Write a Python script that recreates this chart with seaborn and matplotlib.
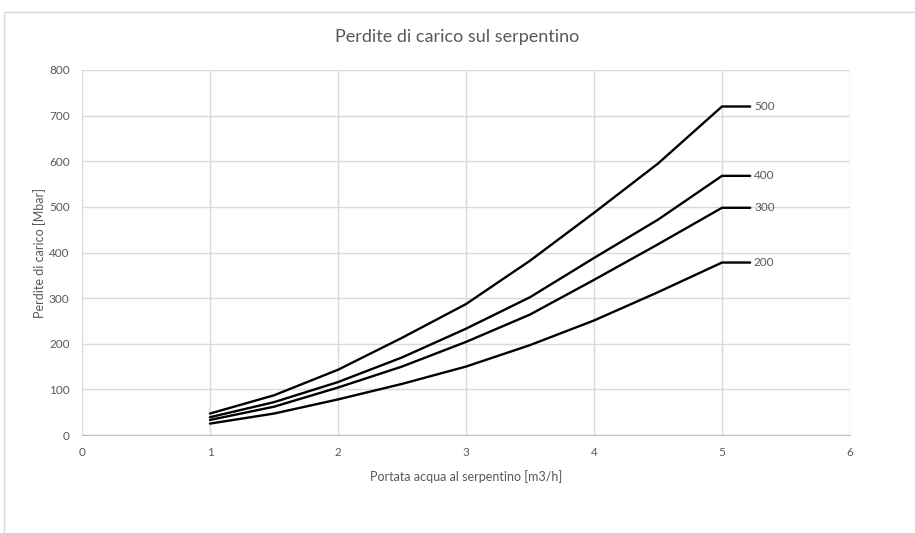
import pandas as pd
import seaborn as sns
import matplotlib.pyplot as plt
from matplotlib.patches import Rectangle

# portata [m3/h] e perdite di carico [Mbar]
portata = [1, 1.5, 2, 2.5, 3, 3.5, 4, 4.5, 5, 5.22]
serie = ['500', '400', '300', '200']
p500 = [47, 87, 143, 213, 287, 382, 487, 595, 720, 720]
p400 = [39, 72, 116, 170, 233, 302, 388, 472, 568, 568]
p300 = [33, 62, 104, 150, 204, 264, 340, 418, 498, 498]
p200 = [25, 47, 78, 112, 150, 197, 251, 313, 378, 378]

df = pd.DataFrame({'portata': portata * 4,
                   'perdite': p500 + p400 + p300 + p200,
                   'serie': [s for s in serie for _ in portata]})

sns.set_style('white')
plt.rcParams['font.family'] = ['Lato', 'DejaVu Sans']
grey = '#595959'

fig = plt.figure(figsize=(9.15, 5.33), dpi=100)
fig.patches.append(Rectangle((4/915, -0.01), 1, 1 - 12/533 + 0.01,
                             transform=fig.transFigure, fill=False,
                             edgecolor='#d9d9d9', lw=1))
ax = fig.add_axes([82/915, 1 - 435/533, 768/915, 365/533])

sns.lineplot(data=df, x='portata', y='perdite', hue='serie',
             palette=['black'] * 4, linewidth=1.7, legend=False, ax=ax)

for s, vals in zip(serie, [p500, p400, p300, p200]):
    ax.text(portata[-1] + 0.03, vals[-1], s, color=grey, fontsize=8.5,
            va='center', ha='left')

ax.set_xlim(0, 6)
ax.set_ylim(0, 800)
ax.set_xticks(range(0, 7))
ax.set_yticks(range(0, 801, 100))
ax.grid(True, color='#d9d9d9', lw=1)
ax.set_axisbelow(True)
for side in ['top', 'right', 'left']:
    ax.spines[side].set_visible(False)
ax.spines['bottom'].set_color('#bfbfbf')
ax.tick_params(axis='both', length=0, labelsize=8.5, labelcolor=grey)
ax.tick_params(axis='x', pad=9)
ax.tick_params(axis='y', pad=9)
ax.set_xlabel('Portata acqua al serpentino [m3/h]', fontsize=9, color=grey, labelpad=8)
ax.set_ylabel('Perdite di carico [Mbar]', fontsize=9, color=grey, labelpad=2)
fig.text(0.5, 1 - 37/533, 'Perdite di carico sul serpentino', ha='center',
         va='center', fontsize=13, color=grey)

fig.savefig('out.png', dpi=100)
